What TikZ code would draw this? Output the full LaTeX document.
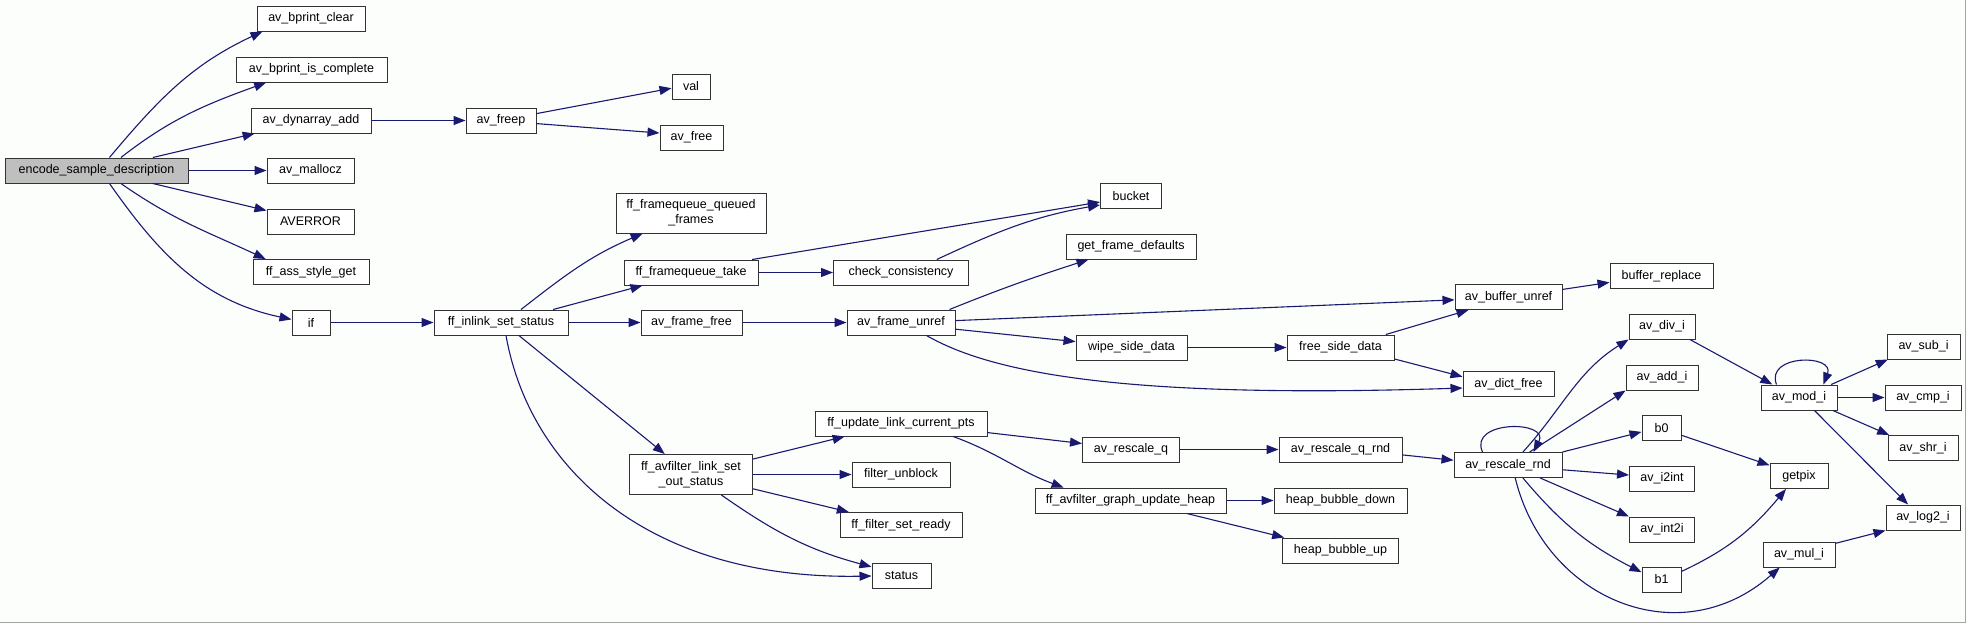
\documentclass[tikz,border=0pt]{standalone}
\usepackage{fontspec}
\setmainfont{Liberation Sans}
\usetikzlibrary{arrows.meta}
\definecolor{edgeblue}{RGB}{25,25,112}
\definecolor{pagebg}{RGB}{252,254,252}
\tikzset{
  fnbox/.style={rectangle,draw=black!80,line width=1pt,fill=white,minimum height=25pt,
    inner xsep=2pt,inner ysep=1pt,font=\fontsize{12.5}{15}\selectfont},
  rootbox/.style={fnbox,fill=black!25},
  twoline/.style={fnbox,minimum height=40pt,align=center},
  call/.style={-{Triangle[length=12pt,width=9pt]},draw=edgeblue,line width=1.1pt},
  frameline/.style={draw=black!35,line width=1.5pt}
}

\begin{document}
\begin{tikzpicture}[x=1pt,y=-1pt]

\useasboundingbox[fill=pagebg] (0,0) rectangle (1967,624);
\draw[frameline] (0,622.5) -- (1965.5,622.5) -- (1965.5,0);

% Caller and its direct callees
\node[rootbox,minimum width=183pt] (encode) at (96.5,170.5) {encode\_sample\_description};
\node[fnbox,minimum width=108pt] (bclear) at (311,18.5) {av\_bprint\_clear};
\node[fnbox,minimum width=151pt] (bcomplete) at (311.5,69.5) {av\_bprint\_is\_complete};
\node[fnbox,minimum width=120pt] (dynadd) at (311,120.5) {av\_dynarray\_add};
\node[fnbox,minimum width=87pt] (mallocz) at (310.5,170.5) {av\_mallocz};
\node[fnbox,minimum width=87pt] (averror) at (310.5,221.5) {AVERROR};
\node[fnbox,minimum width=116pt] (assstyle) at (311,272) {ff\_ass\_style\_get};
\node[fnbox,minimum width=38pt] (if) at (311,322.5) {if};

% Third column
\node[fnbox,minimum width=70pt] (freep) at (501,120.5) {av\_freep};
\node[fnbox,minimum width=134pt] (inlink) at (501,322.5) {ff\_inlink\_set\_status};

% Fourth column
\node[fnbox,minimum width=38pt] (val) at (691,86.5) {val};
\node[fnbox,minimum width=63pt] (avfree) at (691.5,137.5) {av\_free};
\node[twoline,minimum width=150pt] (fqqueued) at (691,213) {ff\_framequeue\_queued\\\_frames};
\node[fnbox,minimum width=134pt] (fqtake) at (691,272.5) {ff\_framequeue\_take};
\node[fnbox,minimum width=101pt] (framefree) at (691.5,322.5) {av\_frame\_free};
\node[twoline,minimum width=123pt] (setout) at (691,474.5) {ff\_avfilter\_link\_set\\\_out\_status};

% Fifth column
\node[fnbox,minimum width=135pt] (checkcons) at (901,272.5) {check\_consistency};
\node[fnbox,minimum width=108pt] (frameunref) at (901,322.5) {av\_frame\_unref};
\node[fnbox,minimum width=172pt] (updpts) at (901,423.5) {ff\_update\_link\_current\_pts};
\node[fnbox,minimum width=98pt] (unblock) at (901,474.5) {filter\_unblock};
\node[fnbox,minimum width=122pt] (setready) at (901,525) {ff\_filter\_set\_ready};
\node[fnbox,minimum width=59pt] (status) at (901.5,576) {status};

% Sixth column
\node[fnbox,minimum width=61pt] (bucket) at (1131,196) {bucket};
\node[fnbox,minimum width=130pt] (framedef) at (1131,246.5) {get\_frame\_defaults};
\node[fnbox,minimum width=111pt] (wipeside) at (1131.5,347.5) {wipe\_side\_data};
\node[fnbox,minimum width=97pt] (rescaleq) at (1131,449.5) {av\_rescale\_q};
\node[fnbox,minimum width=191pt] (heapupd) at (1130.5,500.5) {ff\_avfilter\_graph\_update\_heap};

% Seventh column
\node[fnbox,minimum width=107pt] (freeside) at (1340.5,347.5) {free\_side\_data};
\node[fnbox,minimum width=123pt] (rescaleqrnd) at (1340.5,449.5) {av\_rescale\_q\_rnd};
\node[fnbox,minimum width=133pt] (bubbledown) at (1340.5,500.5) {heap\_bubble\_down};
\node[fnbox,minimum width=116pt] (bubbleup) at (1340.5,550.5) {heap\_bubble\_up};

% Eighth column
\node[fnbox,minimum width=107pt] (bufunref) at (1508.5,297) {av\_buffer\_unref};
\node[fnbox,minimum width=91pt] (dictfree) at (1508.5,384) {av\_dict\_free};
\node[fnbox,minimum width=108pt] (rescalernd) at (1508,465) {av\_rescale\_rnd};

% Integer helpers
\node[fnbox,minimum width=103pt] (bufreplace) at (1661.5,276) {buffer\_replace};
\node[fnbox,minimum width=66pt] (divi) at (1662,326.5) {av\_div\_i};
\node[fnbox,minimum width=72pt] (addi) at (1662,377.5) {av\_add\_i};
\node[fnbox,minimum width=39pt] (b0) at (1661.5,428) {b0};
\node[fnbox,minimum width=65pt] (itoint) at (1662,478.5) {av\_i2int};
\node[fnbox,minimum width=65pt] (inttoi) at (1662,529.5) {av\_int2i};
\node[fnbox,minimum width=39pt] (b1) at (1661.5,579.5) {b1};
\node[fnbox,minimum width=76pt] (modi) at (1799,397.5) {av\_mod\_i};
\node[fnbox,minimum width=58pt] (getpix) at (1799,476) {getpix};
\node[fnbox,minimum width=72pt] (muli) at (1799,554.5) {av\_mul\_i};
\node[fnbox,minimum width=73pt] (subi) at (1923.5,346.5) {av\_sub\_i};
\node[fnbox,minimum width=76pt] (cmpi) at (1923,397.5) {av\_cmp\_i};
\node[fnbox,minimum width=70pt] (shri) at (1923,448) {av\_shr\_i};
\node[fnbox,minimum width=74pt] (logi) at (1923,517.5) {av\_log2\_i};

% Straight calls in one row
\foreach \i/\j in {encode/mallocz,dynadd/freep,if/inlink,inlink/framefree,
  fqtake/checkcons,framefree/frameunref,wipeside/freeside,setout/unblock,
  rescaleq/rescaleqrnd,heapupd/bubbledown,modi/cmpi}
{
  \draw[call] (\i) -- (\j);
}

% Straight calls between rows
\foreach \i/\j in {
encode.13/dynadd.193,encode.347/averror.166,
freep.11/val.185,freep.355/avfree.172,
inlink.14/fqtake.195,inlink.324/setout.142,fqtake.12/bucket.191,
frameunref.2/bufunref.183,frameunref.353/wipeside.174,
freeside.16/bufunref.198,freeside.348/dictfree.171,bufunref.8/bufreplace.187,
setout.14/updpts.193,setout.347/setready.166,
updpts.354/rescaleq.173,rescaleqrnd.355/rescalernd.175,heapupd.347/bubbleup.167,
rescalernd.31/addi.south west,rescalernd.north east/b0.191,
rescalernd.355/itoint.174,rescalernd.338/inttoi.north west,
divi.335/modi.154,modi.22/subi.200,modi.339/shri.159,modi.320/logi.139,
b0.340/getpix.160,muli.17/logi.south west}
{
  \draw[call] (\i) -- (\j);
}

% Curved calls
\draw[call] (encode.45) to[out=50,in=205] (bclear.195);
\draw[call] (encode.28) to[out=38,in=200] (bcomplete.196);
\draw[call] (encode.332) to[out=-35,in=155] (assstyle.164);
\draw[call] (encode.315) to[out=-55,in=168] (if.171);
\draw[call] (inlink.33) to[out=38,in=203] (fqqueued.203);
\draw[call] (inlink.291) .. controls (530,470) and (650,580) .. (status.west);
\draw[call] (checkcons.20) to[out=25,in=190] (bucket.196);
\draw[call] (frameunref.15) to[out=22,in=198] (framedef.197);
\draw[call] (frameunref.333) .. controls (1000,378) and (1150,398) .. (dictfree.185);
\draw[call] (setout.326) to[out=-35,in=165] (status.163);
\draw[call] (updpts.346) to[out=-20,in=160] (heapupd.169);
\draw[call] (rescalernd.41) to[out=48,in=212] (divi.south west);
\draw[call] (rescalernd.319) to[out=-50,in=153] (b1.160);
\draw[call] (rescalernd.299) .. controls (1545,600) and (1680,655) .. (muli.214);
\draw[call] (b1.22) to[out=25,in=-130] (getpix.225);

% Recursive calls
\draw[call] (rescalernd.153) .. controls (1468,420) and (1550,420) .. (rescalernd.27);
\draw[call] (modi.150) .. controls (1765,354) and (1835,354) .. (modi.28);

\end{tikzpicture}
\end{document}
